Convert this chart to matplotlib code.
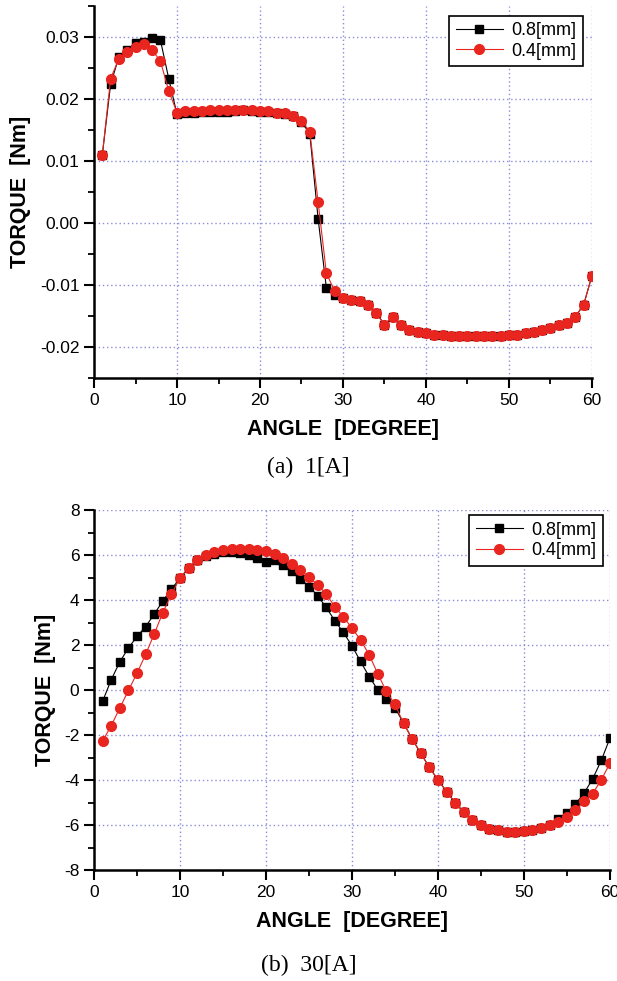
import numpy as np
import matplotlib
matplotlib.use("Agg")
import matplotlib.pyplot as plt
from matplotlib.ticker import MultipleLocator, FormatStrFormatter

plt.rcParams['font.family'] = ['Liberation Sans', 'DejaVu Sans']

# angle [degree]
angle = list(range(1, 61))

# (a) 1[A] torque [Nm]
torque_a_08 = [0.0110, 0.0224, 0.0268, 0.0279, 0.0291, 0.0292, 0.0299, 0.0295, 0.0233, 0.0175,
               0.0177, 0.0178, 0.0179, 0.0179, 0.0179, 0.0179, 0.0180, 0.0182, 0.0181, 0.0179,
               0.0179, 0.0177, 0.0176, 0.0172, 0.0163, 0.0144, 0.0007, -0.0105, -0.0116, -0.0121,
               -0.0124, -0.0126, -0.0132, -0.0145, -0.0164, -0.0151, -0.0165, -0.0172, -0.0176, -0.0178,
               -0.0180, -0.0181, -0.0182, -0.0182, -0.0182, -0.0182, -0.0182, -0.0182, -0.0182, -0.0181,
               -0.0180, -0.0178, -0.0176, -0.0173, -0.0169, -0.0165, -0.0161, -0.0151, -0.0132, -0.0085]
torque_a_04 = [0.0110, 0.0233, 0.0265, 0.0276, 0.0284, 0.0288, 0.0279, 0.0261, 0.0213, 0.0178,
               0.0180, 0.0181, 0.0181, 0.0182, 0.0183, 0.0183, 0.0183, 0.0183, 0.0182, 0.0180,
               0.0180, 0.0178, 0.0177, 0.0173, 0.0165, 0.0147, 0.0034, -0.0081, -0.0110, -0.0121,
               -0.0124, -0.0126, -0.0133, -0.0145, -0.0164, -0.0151, -0.0165, -0.0172, -0.0176, -0.0178,
               -0.0180, -0.0181, -0.0182, -0.0182, -0.0182, -0.0182, -0.0182, -0.0182, -0.0182, -0.0181,
               -0.0180, -0.0178, -0.0176, -0.0173, -0.0169, -0.0165, -0.0161, -0.0151, -0.0132, -0.0085]

# (b) 30[A] torque [Nm]
torque_b_08 = [-0.50, 0.46, 1.25, 1.87, 2.38, 2.82, 3.37, 3.96, 4.48, 4.97,
               5.43, 5.76, 5.94, 6.06, 6.13, 6.13, 6.11, 6.01, 5.88, 5.67,
               5.79, 5.56, 5.27, 4.95, 4.60, 4.20, 3.67, 3.09, 2.56, 1.97,
               1.27, 0.60, 0.01, -0.40, -0.78, -1.47, -2.17, -2.81, -3.43, -3.99,
               -4.51, -5.00, -5.43, -5.77, -5.99, -6.16, -6.24, -6.30, -6.31, -6.28,
               -6.21, -6.13, -5.99, -5.74, -5.47, -5.07, -4.58, -3.95, -3.13, -2.15]
torque_b_04 = [-2.27, -1.58, -0.80, -0.02, 0.75, 1.58, 2.49, 3.44, 4.26, 4.97,
               5.43, 5.76, 5.98, 6.13, 6.23, 6.28, 6.28, 6.26, 6.21, 6.17,
               6.03, 5.85, 5.62, 5.35, 5.02, 4.67, 4.28, 3.70, 3.26, 2.75,
               2.23, 1.57, 0.73, -0.06, -0.64, -1.47, -2.17, -2.81, -3.43, -3.99,
               -4.51, -5.00, -5.43, -5.77, -5.99, -6.16, -6.24, -6.30, -6.31, -6.28,
               -6.21, -6.13, -5.99, -5.87, -5.65, -5.35, -4.93, -4.60, -4.00, -3.26]

series_labels = ['0.8[mm]', '0.4[mm]']
grid_color = '#8c8cd8'


def style_axes(ax, ylim, ymajor, yminor, yfmt):
    ax.set_xlim(0, 60)
    ax.set_ylim(*ylim)
    ax.xaxis.set_major_locator(MultipleLocator(10))
    ax.xaxis.set_minor_locator(MultipleLocator(5))
    ax.yaxis.set_major_locator(MultipleLocator(ymajor))
    ax.yaxis.set_minor_locator(MultipleLocator(yminor))
    ax.yaxis.set_major_formatter(FormatStrFormatter(yfmt))
    for s in ['top', 'right']:
        ax.spines[s].set_visible(False)
    for s in ['left', 'bottom']:
        ax.spines[s].set_linewidth(1.8)
    ax.tick_params(which='major', direction='out', length=7, width=1.5, labelsize=12.5)
    ax.tick_params(which='minor', direction='out', length=4, width=1.3)
    ax.grid(True, which='major', linestyle=(0, (1, 2)), color=grid_color, linewidth=1.0)
    ax.set_axisbelow(True)
    ax.set_xlabel('ANGLE  [DEGREE]', fontsize=15.5, fontweight='bold', labelpad=8)
    ax.set_ylabel('TORQUE  [Nm]', fontsize=15.5, fontweight='bold', labelpad=6)


def draw(ax, y08, y04):
    ax.plot(angle, y08, color='black', linewidth=0.8, marker='s', markersize=6,
            markerfacecolor='black', markeredgecolor='black', label=series_labels[0], zorder=3)
    ax.plot(angle, y04, color='#e8251f', linewidth=0.8, marker='o', markersize=7,
            markerfacecolor='#e8251f', markeredgecolor='#e8251f', label=series_labels[1], zorder=4)


def add_legend(ax, anchor):
    leg = ax.legend(loc='upper right', bbox_to_anchor=anchor, fontsize=13,
                    fancybox=False, edgecolor='black', framealpha=1, handlelength=2.6,
                    borderpad=0.35, labelspacing=0.2, handletextpad=0.5)
    leg.get_frame().set_linewidth(1.2)


fig = plt.figure(figsize=(6.17, 9.81), dpi=100)

ax1 = fig.add_axes([0.1524, 0.6147, 0.807, 0.3792])
draw(ax1, torque_a_08, torque_a_04)
style_axes(ax1, (-0.025, 0.035), 0.01, 0.005, '%.2f')
add_legend(ax1, (1.0, 0.998))

ax2 = fig.add_axes([0.1524, 0.1131, 0.836, 0.367])
draw(ax2, torque_b_08, torque_b_04)
style_axes(ax2, (-8, 8), 2, 1, '%d')
add_legend(ax2, (1.004, 1.01))

fig.text(0.5, 1 - 467 / 981, '(a)  1[A]', ha='center', va='center',
         fontsize=17, family=['Liberation Serif', 'DejaVu Serif'])
fig.text(0.5, 1 - 965 / 981, '(b)  30[A]', ha='center', va='center',
         fontsize=17, family=['Liberation Serif', 'DejaVu Serif'])

fig.savefig('out.png', dpi=100)
